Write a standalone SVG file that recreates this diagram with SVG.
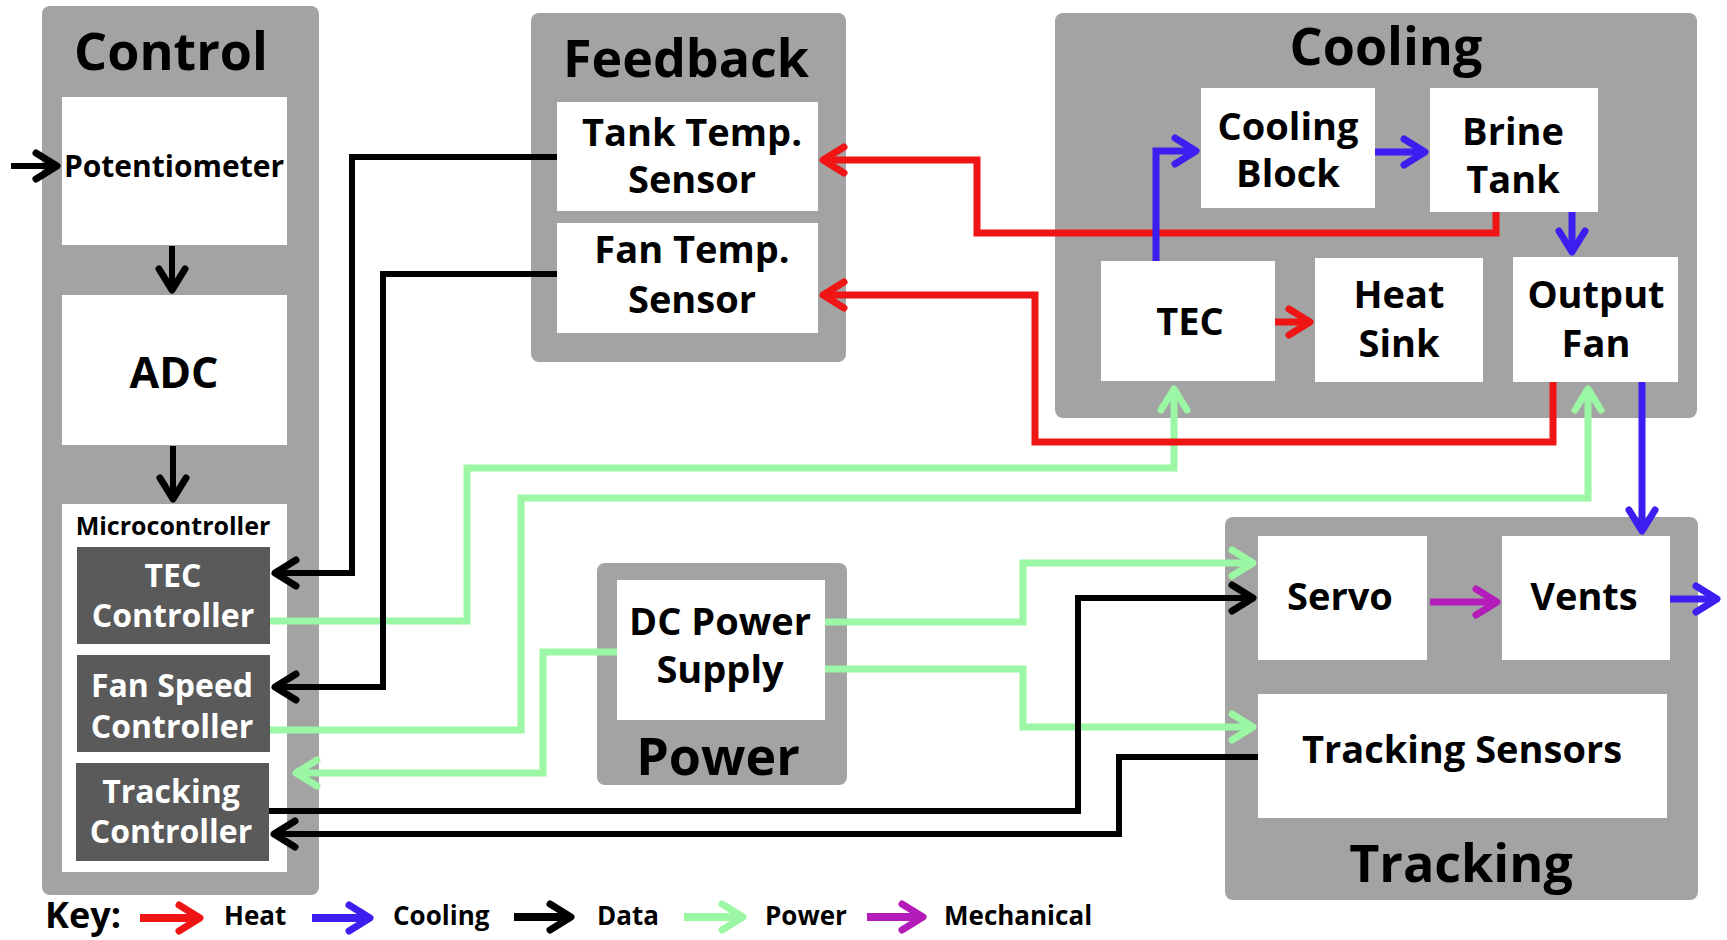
<svg xmlns="http://www.w3.org/2000/svg" width="1727" height="940" viewBox="0 0 1727 940">
<defs>
<style>
.panel{fill:#a3a3a3}
.box{fill:#ffffff}
.dark{fill:#5a5a5a}
.t{font-family:"Open Sans","Noto Sans","DejaVu Sans",sans-serif;font-weight:700;fill:#000;text-anchor:middle}
.title{font-size:52px}
.n{font-size:38px}
.s{font-size:32px}
.w{fill:#ffffff}
.lg{font-family:"Open Sans","Noto Sans","DejaVu Sans",sans-serif;font-weight:700;fill:#000;font-size:26px}
.c{fill:none;stroke-linejoin:miter}
.k{stroke:#000000;stroke-width:6}
.r{stroke:#f01515;stroke-width:7}
.b{stroke:#3d1ef0;stroke-width:7}
.g{stroke:#9cf7a4;stroke-width:7}
.p{stroke:#b31cb8;stroke-width:7}
.head{fill:none;stroke-width:7;stroke-linejoin:round;stroke-linecap:round}
</style>
<marker id="ak" markerUnits="userSpaceOnUse" markerWidth="40" markerHeight="40" viewBox="-30 -20 40 40" refX="0" refY="0" orient="auto"><path class="head" d="M-21,-13 L0,0 L-21,13" stroke="#000000"/></marker>
<marker id="ar" markerUnits="userSpaceOnUse" markerWidth="40" markerHeight="40" viewBox="-30 -20 40 40" refX="0" refY="0" orient="auto"><path class="head" d="M-21,-13 L0,0 L-21,13" stroke="#f01515"/></marker>
<marker id="ab" markerUnits="userSpaceOnUse" markerWidth="40" markerHeight="40" viewBox="-30 -20 40 40" refX="0" refY="0" orient="auto"><path class="head" d="M-21,-13 L0,0 L-21,13" stroke="#3d1ef0"/></marker>
<marker id="ag" markerUnits="userSpaceOnUse" markerWidth="40" markerHeight="40" viewBox="-30 -20 40 40" refX="0" refY="0" orient="auto"><path class="head" d="M-21,-13 L0,0 L-21,13" stroke="#9cf7a4"/></marker>
<marker id="ap" markerUnits="userSpaceOnUse" markerWidth="40" markerHeight="40" viewBox="-30 -20 40 40" refX="0" refY="0" orient="auto"><path class="head" d="M-21,-13 L0,0 L-21,13" stroke="#b31cb8"/></marker>
</defs>
<rect width="1727" height="940" fill="#ffffff"/>

<!-- Panels -->
<g id="control">
<rect class="panel" x="42" y="6" width="277" height="889" rx="8"/>
<text class="t title" x="171" y="70">Control</text>
</g>
<g id="feedback">
<rect class="panel" x="531" y="13" width="315" height="349" rx="8"/>
<text class="t title" x="686" y="77">Feedback</text>
</g>
<g id="cooling">
<rect class="panel" x="1055" y="13" width="642" height="405" rx="8"/>
<text class="t title" x="1386" y="65">Cooling</text>
</g>
<g id="power">
<rect class="panel" x="597" y="563" width="250" height="222" rx="8"/>
<text class="t title" x="718" y="775">Power</text>
</g>
<g id="tracking">
<rect class="panel" x="1225" y="517" width="473" height="383" rx="8"/>
<text class="t title" x="1461" y="882">Tracking</text>
</g>

<!-- Control nodes -->
<g id="potentiometer">
<rect class="box" x="62" y="97" width="225" height="148"/>
<text class="t" style="font-size:30px" x="174" y="177">Potentiometer</text>
</g>
<g id="adc">
<rect class="box" x="62" y="295" width="225" height="150"/>
<text class="t" style="font-size:43px" x="174" y="388">ADC</text>
</g>
<g id="microcontroller">
<rect class="box" x="62" y="504" width="225" height="368"/>
<text class="t" style="font-size:25px" x="173" y="535">Microcontroller</text>
</g>
<g id="tec-controller">
<rect class="dark" x="77" y="547" width="193" height="97"/>
<text class="t s w" x="173" y="587">TEC</text>
<text class="t s w" x="173" y="627">Controller</text>
</g>
<g id="fan-speed-controller">
<rect class="dark" x="77" y="655" width="193" height="97"/>
<text class="t s w" x="172" y="697">Fan Speed</text>
<text class="t s w" x="172" y="738">Controller</text>
</g>
<g id="tracking-controller">
<rect class="dark" x="76" y="763" width="193" height="98"/>
<text class="t s w" x="171" y="803">Tracking</text>
<text class="t s w" x="171" y="843">Controller</text>
</g>

<!-- Feedback nodes -->
<g id="tank-temp-sensor">
<rect class="box" x="557" y="102" width="261" height="109"/>
<text class="t n" x="692" y="146">Tank Temp.</text>
<text class="t n" x="692" y="193">Sensor</text>
</g>
<g id="fan-temp-sensor">
<rect class="box" x="557" y="223" width="261" height="110"/>
<text class="t n" x="692" y="263">Fan Temp.</text>
<text class="t n" x="692" y="313">Sensor</text>
</g>

<!-- Cooling nodes -->
<g id="cooling-block">
<rect class="box" x="1201" y="88" width="174" height="120"/>
<text class="t n" x="1288" y="140">Cooling</text>
<text class="t n" x="1288" y="187">Block</text>
</g>
<g id="brine-tank">
<rect class="box" x="1430" y="88" width="168" height="124"/>
<text class="t n" x="1513" y="145">Brine</text>
<text class="t n" x="1513" y="193">Tank</text>
</g>
<g id="tec">
<rect class="box" x="1101" y="261" width="174" height="120"/>
<text class="t n" x="1190" y="335">TEC</text>
</g>
<g id="heat-sink">
<rect class="box" x="1315" y="258" width="168" height="124"/>
<text class="t n" x="1399" y="308">Heat</text>
<text class="t n" x="1399" y="357">Sink</text>
</g>
<g id="output-fan">
<rect class="box" x="1513" y="257" width="165" height="125"/>
<text class="t n" x="1596" y="308">Output</text>
<text class="t n" x="1596" y="357">Fan</text>
</g>

<!-- Power node -->
<g id="dc-power-supply">
<rect class="box" x="617" y="580" width="208" height="140"/>
<text class="t n" x="720" y="635">DC Power</text>
<text class="t n" x="720" y="683">Supply</text>
</g>

<!-- Tracking nodes -->
<g id="servo">
<rect class="box" x="1258" y="536" width="169" height="124"/>
<text class="t n" x="1340" y="610">Servo</text>
</g>
<g id="vents">
<rect class="box" x="1502" y="536" width="168" height="124"/>
<text class="t n" x="1584" y="610">Vents</text>
</g>
<g id="tracking-sensors">
<rect class="box" x="1258" y="694" width="409" height="124"/>
<text class="t n" x="1462" y="763">Tracking Sensors</text>
</g>

<!-- Connectors -->
<g id="connectors">
<!-- power -->
<path class="c g" d="M270,621 H467 V468 H1174 V389" marker-end="url(#ag)"/>
<path class="c g" d="M270,730 H521 V498 H1588 V389" marker-end="url(#ag)"/>
<path class="c g" d="M617,652 H543 V773 H296" marker-end="url(#ag)"/>
<path class="c g" d="M825,622 H1023 V563 H1253" marker-end="url(#ag)"/>
<path class="c g" d="M825,669 H1023 V727 H1253" marker-end="url(#ag)"/>
<!-- heat -->
<path class="c r" d="M1496,212 V233 H977 V160 H823" marker-end="url(#ar)"/>
<path class="c r" d="M1553,382 V442 H1035 V295 H823" marker-end="url(#ar)"/>
<path class="c r" d="M1275,322 H1310" marker-end="url(#ar)"/>
<!-- cooling -->
<path class="c b" d="M1156,261 V151 H1196" marker-end="url(#ab)"/>
<path class="c b" d="M1375,152 H1425" marker-end="url(#ab)"/>
<path class="c b" d="M1572,212 V252" marker-end="url(#ab)"/>
<path class="c b" d="M1642,382 V531" marker-end="url(#ab)"/>
<path class="c b" d="M1670,599 H1717" marker-end="url(#ab)"/>
<!-- mechanical -->
<path class="c p" d="M1430,602 H1497" marker-end="url(#ap)"/>
<!-- data -->
<path class="c k" d="M11,166 H57" marker-end="url(#ak)"/>
<path class="c k" d="M172,246 V290" marker-end="url(#ak)"/>
<path class="c k" d="M173,446 V499" marker-end="url(#ak)"/>
<path class="c k" d="M557,157 H352 V573 H275" marker-end="url(#ak)"/>
<path class="c k" d="M557,274 H383 V687 H275" marker-end="url(#ak)"/>
<path class="c k" d="M269,811 H1078 V598 H1253" marker-end="url(#ak)"/>
<path class="c k" d="M1258,757 H1119 V834 H274" marker-end="url(#ak)"/>
</g>

<!-- Key -->
<g id="key">
<text class="lg" style="font-size:36px" x="45" y="928">Key:</text>
<path class="c r" style="stroke-width:8" d="M140,918 H200" marker-end="url(#ar)"/>
<text class="lg" x="224" y="925">Heat</text>
<path class="c b" style="stroke-width:8" d="M312,918 H370" marker-end="url(#ab)"/>
<text class="lg" x="393" y="925">Cooling</text>
<path class="c k" style="stroke-width:8" d="M514,917 H571" marker-end="url(#ak)"/>
<text class="lg" x="597" y="925">Data</text>
<path class="c g" style="stroke-width:8" d="M684,917 H743" marker-end="url(#ag)"/>
<text class="lg" x="765" y="925">Power</text>
<path class="c p" style="stroke-width:8" d="M867,917 H923" marker-end="url(#ap)"/>
<text class="lg" x="944" y="925">Mechanical</text>
</g>
</svg>
